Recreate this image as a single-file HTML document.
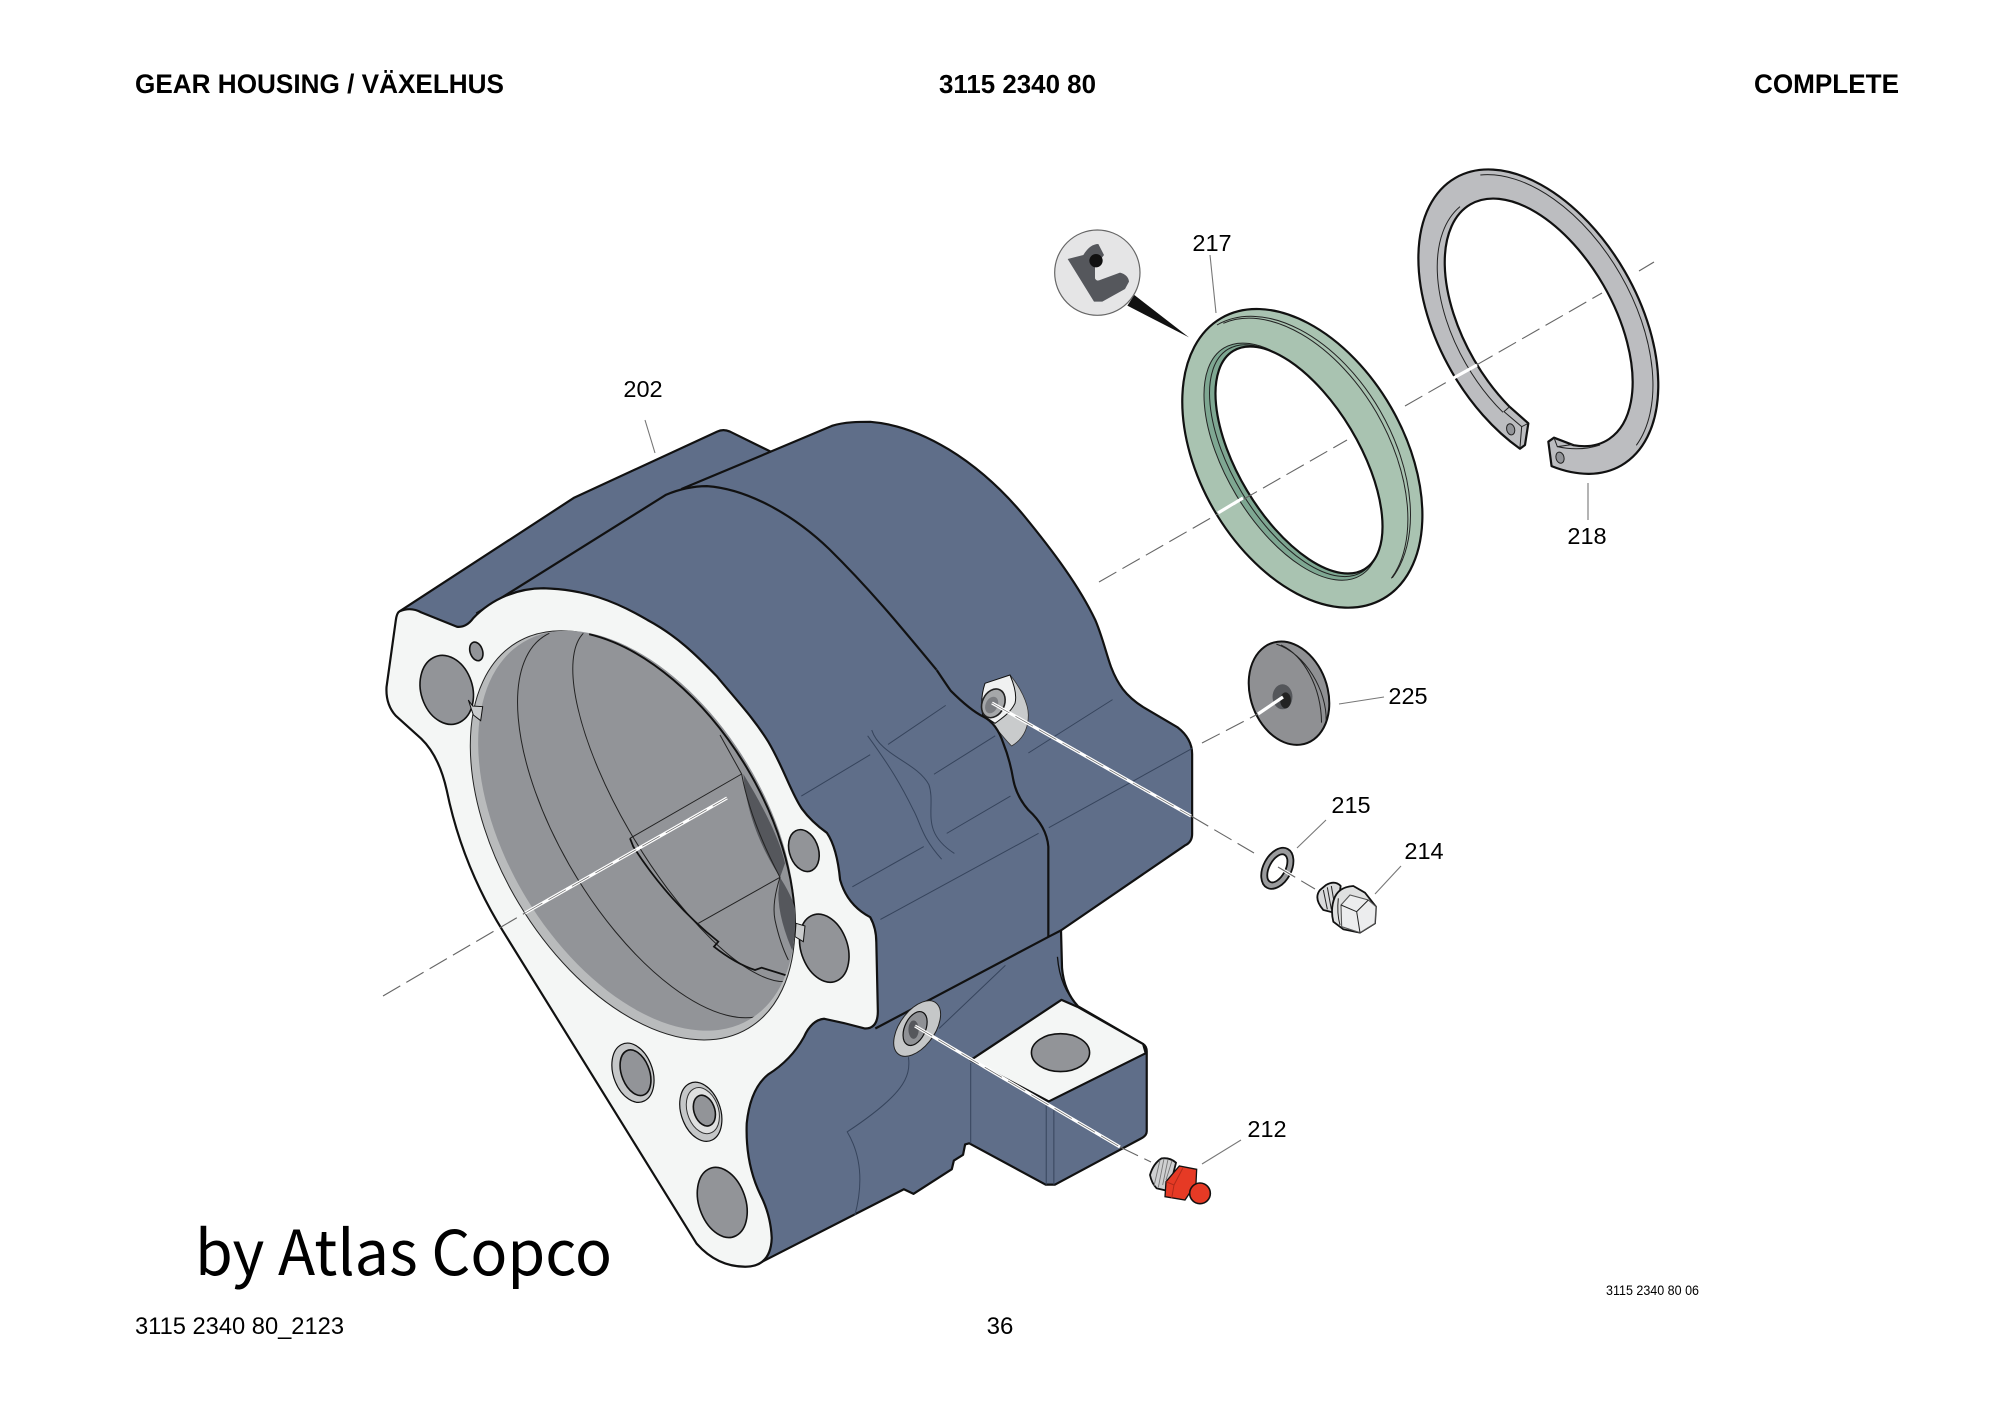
<!DOCTYPE html>
<html><head><meta charset="utf-8"><style>
html,body{margin:0;padding:0;background:#fff}
svg{display:block}
svg *{vector-effect:non-scaling-stroke}
.b{stroke:#111;stroke-width:2.2;stroke-linejoin:round}
.t{fill:none;stroke:#36445c;stroke-width:1}
.k{fill:none;stroke:#222;stroke-width:1}
.h{fill:#929498;stroke:#111;stroke-width:1.6}
.l{stroke:#777;stroke-width:1.1;fill:none}
.d{stroke:#666;stroke-width:1.1;fill:none;stroke-dasharray:20 7}
.w{stroke:#fff;stroke-width:3.2;fill:none}
text{font-family:"Liberation Sans",sans-serif;fill:#000}
.n{font-size:23.5px;text-anchor:middle}
</style></head><body>
<svg width="2000" height="1414" viewBox="0 0 2000 1414" xmlns="http://www.w3.org/2000/svg">
<defs>
<clipPath id="bc"><ellipse cx="560" cy="632" rx="388" ry="660" transform="rotate(-31 560 632)"/></clipPath>
</defs>
<rect width="2000" height="1414" fill="#fff"/>
<text x="135" y="93" font-size="27" font-weight="bold" textLength="369" lengthAdjust="spacingAndGlyphs">GEAR HOUSING / VÄXELHUS</text>
<text x="939" y="93" font-size="26" font-weight="bold" textLength="157" lengthAdjust="spacingAndGlyphs">3115 2340 80</text>
<text x="1754" y="93" font-size="27" font-weight="bold" textLength="145" lengthAdjust="spacingAndGlyphs">COMPLETE</text>

<!-- Housing -->
<g transform="translate(360,400) scale(.5102,.574)">
<path class="b" fill="#5f6e89" d="M78,368 L420,170 L700,55 Q712,50 725,55 L805,90 L925,45 C950,38 980,38 1000,38 C1100,45 1210,105 1300,200 C1360,265 1410,325 1441,383 C1455,412 1462,440 1472,465 C1485,495 1500,515 1535,535 L1602,570 Q1631,590 1631,617 L1631,756 Q1631,770 1617,776 L1374,924 L1376,990 Q1380,1030 1407,1056 L1535,1122 Q1542,1126 1542,1135 L1542,1274 Q1542,1282 1530,1287 L1362,1367 L1344,1367 L1194,1295 L1186,1297 L1182,1315 L1164,1325 L1160,1340 L1085,1383 L1066,1375 L780,1505 L600,1300 L300,850 L150,500 Z"/>
<path class="b" fill="#f4f6f5" stroke-width="1.5" d="M1197,1150 L1375,1045 L1408,1058 L1535,1122 L1540,1138 L1350,1222 Z"/>
<ellipse class="h" cx="1373" cy="1137" rx="57" ry="33"/>
<path class="b" fill="none" d="M228,372 L600,165 Q640,150 680,150 C760,155 850,200 920,260 C1000,330 1060,395 1130,470"/>
<path class="b" fill="none" d="M630,155 L805,90"/>
<path class="b" fill="none" d="M1010,1095 L1350,935 L1374,924"/>
<path class="t" d="M865,690L1000,618M1035,600L1148,532M1125,652L1245,585M965,848L1105,778M1150,755L1275,690M1020,905L1330,755M1310,615L1475,522M1350,745L1631,607"/>
<path class="t" d="M1003,575C1020,620 1090,630 1115,670C1130,710 1095,750 1165,790M995,585C1040,640 1060,670 1085,715C1100,740 1100,760 1140,800"/>
<path class="t" d="M1135,1095L1265,985M1075,1145C1080,1180 1065,1210 955,1275C985,1320 985,1370 970,1420M1197,1155L1197,1295M1345,1225L1345,1367M1360,1235L1360,1367"/>
<path fill="none" stroke="#111" stroke-width="1.3" d="M1367,970Q1372,1025 1408,1056"/>

<!-- flange -->
<path class="b" fill="#f4f6f5" d="M78,368 Q100,360 120,370 L190,395 Q208,397 222,380 C260,345 310,328 360,328 C440,330 500,350 563,383 C620,410 660,445 700,482 C740,525 772,555 800,595 C830,640 845,685 866,712 Q885,735 915,754 Q935,780 941,836 Q955,880 1000,901 Q1012,920 1012,945 L1015,1065 Q1015,1095 990,1095 Q950,1085 910,1078 Q885,1080 870,1110 Q845,1150 800,1175 Q765,1200 758,1260 Q755,1330 785,1385 Q805,1420 807,1460 Q805,1510 755,1510 Q700,1510 660,1470 L280,925 Q200,810 170,680 Q155,620 120,590 L70,550 Q50,530 52,500 L70,385 Q72,370 78,368 Z"/>
<!-- holes -->
<ellipse class="h" cx="170" cy="505" rx="50" ry="62" transform="rotate(-25 170 505)"/>
<ellipse class="h" cx="228" cy="438" rx="12" ry="17" transform="rotate(-25 228 438)"/>
<ellipse class="h" cx="870" cy="785" rx="28" ry="38" transform="rotate(-25 870 785)"/>
<ellipse class="h" cx="910" cy="955" rx="45" ry="62" transform="rotate(-25 910 955)"/>
<ellipse cx="535" cy="1172" rx="38" ry="54" transform="rotate(-25 535 1172)" fill="#c5c7c8" stroke="#111" stroke-width="1.2"/>
<ellipse class="h" cx="540" cy="1172" rx="27" ry="42" transform="rotate(-25 540 1172)"/>
<ellipse cx="668" cy="1240" rx="38" ry="54" transform="rotate(-25 668 1240)" fill="#c5c7c8" stroke="#111" stroke-width="1.2"/>
<ellipse cx="672" cy="1238" rx="30" ry="42" transform="rotate(-25 672 1238)" fill="#dfe0e0" stroke="#333" stroke-width="1"/>
<ellipse class="h" cx="675" cy="1238" rx="20" ry="28" transform="rotate(-25 675 1238)"/>
<ellipse class="h" cx="710" cy="1398" rx="45" ry="64" transform="rotate(-25 710 1398)"/>
<!-- lower boss -->
<ellipse cx="1092" cy="1095" rx="33" ry="58" transform="rotate(42 1092 1095)" fill="#c5c7c8" stroke="#222" stroke-width="1"/>
<ellipse cx="1088" cy="1095" rx="20" ry="32" transform="rotate(30 1088 1095)" fill="#8f9195" stroke="#111" stroke-width="1.2"/>
<ellipse cx="1085" cy="1097" rx="10" ry="16" fill="#55575c"/>
</g>

<!-- bore -->
<g transform="translate(450,620) scale(.33333)">
<ellipse cx="548" cy="646" rx="398" ry="675" transform="rotate(-31 548 646)" fill="#b9bbbc" stroke="#222" stroke-width="1"/>
<ellipse cx="560" cy="632" rx="388" ry="660" transform="rotate(-31 560 632)" fill="#929498"/>
<path d="M417.5,42.5 A398 675 -31 0 1 889,441 A398 675 -31 0 1 1035,910" fill="none" stroke="#111" stroke-width="2"/>
<g clip-path="url(#bc)">
<path fill="#55575c" d="M880,462 C940,560 990,660 1005,730 L990,772 C950,710 890,600 880,462 Z"/>
<path fill="#55575c" d="M990,772 Q1040,850 1040,900 L1035,1010 Q985,900 985,820 Z"/>
<path class="k" d="M298,40 A 285 640 -31 0 0 950,1180"/>
<path class="k" d="M400,40 A 205 610 -31 0 0 1005,1085"/>
<path class="k" d="M540,655 L875,462 M745,910 L990,772 M810,345 L875,462 M875,462 Q900,600 990,772 Q965,850 975,900 Q990,970 1015,1020"/>
<path fill="none" stroke="#111" stroke-width="1.8" d="M540,655 L550,680 C620,790 710,890 805,965 L792,980 C830,1010 870,1035 915,1050 L935,1043 L1015,1068"/>
</g>
<path d="M55,240L68,258L98,260L92,302L70,285Z" fill="#c9cbcc" stroke="#111" stroke-width="1"/>
<path d="M1038,910L1065,918L1060,965L1035,950Z" fill="#c9cbcc" stroke="#111" stroke-width="1"/>
</g>

<!-- top boss -->
<g transform="translate(960,660) scale(.33333)">
<path fill="#c9cbcc" stroke="#333" stroke-width=".8" d="M75,70L150,45C180,80 205,130 205,165C205,210 185,240 155,258C130,235 110,200 68,165Z"/>
<path fill="#f0f1f1" stroke="#111" stroke-width="1" d="M75,70L150,45C165,80 170,110 165,130C150,160 125,175 105,190L68,165C62,130 65,100 75,70Z"/>
<ellipse cx="100" cy="130" rx="33" ry="45" transform="rotate(25 100 130)" fill="#a5a7a9" stroke="#222" stroke-width="1.6"/>
<ellipse cx="95" cy="135" rx="18" ry="26" transform="rotate(25 95 135)" fill="#7b7d81"/>
<path fill="none" stroke="#111" stroke-width="2.2" d="M-70,30 Q-40,75 -28,92 Q30,150 70,170 Q110,190 130,250 Q150,300 160,360 Q170,410 205,450 Q260,500 265,560 L265,831"/>
</g>

<!-- seal 217 -->
<g transform="translate(1160,290) scale(.33333)">
<ellipse class="b" cx="427" cy="505" rx="307" ry="486" transform="rotate(-30 427 505)" fill="#a9c3b1"/>
<ellipse cx="397" cy="515" rx="196" ry="398" transform="rotate(-31 397 515)" fill="#7ea792" stroke="#222" stroke-width="1"/>
<ellipse cx="405" cy="512" rx="186" ry="390" transform="rotate(-31 405 512)" fill="none" stroke="#222" stroke-width="1"/>
<ellipse class="b" cx="417" cy="510" rx="181" ry="382" transform="rotate(-31 417 510)" fill="#fff"/>
<path class="k" d="M171,105 A295 468 -30 0 1 660.5,362.5 A295 468 -30 0 1 697,863.5"/>
<path class="k" d="M190,100 A283 468 -30 0 1 650,368.5 A283 468 -30 0 1 694,865"/>
</g>

<!-- retaining ring 218 -->
<g transform="translate(1400,160) scale(.33333)">
<path class="b" fill="#bcbdc0" d="M359.9,866.2 A300 498 -30 0 1 155.2,635 A300 498 -30 0 1 166,53.7 A300 498 -30 0 1 674.8,335 A300 498 -30 0 1 664,916.3 A300 498 -30 0 1 454.7,918.5 L445,845 L462,833 L520.7,855.6 A224 409 -30 0 0 610,375 A224 409 -30 0 0 211.5,133 A224 409 -30 0 0 222,599 A224 409 -30 0 0 328.6,740.2 L385,790 L375,855 Z"/>
<path class="k" d="M241,45 A290 485 -30 0 1 661,343 A290 485 -30 0 1 709,856"/>
<path class="k" d="M180,140 A245 420 -30 0 0 198,612 A245 420 -30 0 0 309,757"/>
<path class="k" d="M328.6,740.2 L312,755 L365,800 L385,790 M365,800 L360,862 M462,833 L472,860 L520,853 M472,860 Q540,875 600,855"/>
<ellipse cx="332" cy="808" rx="12" ry="17" transform="rotate(-15 332 808)" fill="#929498" stroke="#222" stroke-width="1"/>
<ellipse cx="480" cy="893" rx="12" ry="17" transform="rotate(-15 480 893)" fill="#929498" stroke="#222" stroke-width="1"/>
</g>

<!-- detail -->
<g transform="translate(1040,220) scale(.33333)">
<circle cx="172" cy="158" r="128" fill="#e5e5e6" stroke="#666" stroke-width="1.2"/>
<path d="M83,117 L130,105 Q150,72 175,72 L192,105 L165,140 L165,175 Q170,185 180,180 L240,158 Q265,165 267,185 L255,207 L187,245 L162,245 Z" fill="#55575c"/>
<circle cx="168" cy="122" r="20" fill="#111"/>
<path d="M283,225L262,257L447,352Z" fill="#111"/>
</g>

<!-- 225 -->
<g transform="translate(860,620) scale(.3827,.4464)">
<ellipse cx="1121" cy="164" rx="98" ry="122" transform="rotate(-32 1121 164)" fill="#8f9093" stroke="#111" stroke-width="2"/>
<path class="k" d="M1100,56C1160,80 1205,150 1206,230M1088,54C1165,75 1220,160 1218,225"/>
<ellipse cx="1104" cy="172" rx="26" ry="28" fill="#54565a"/>
<ellipse cx="1112" cy="180" rx="14" ry="18" fill="#222"/>
</g>

<!-- 215 / 214 -->
<g transform="translate(1240,830) scale(.33333)">
<ellipse cx="112" cy="115" rx="42" ry="66" transform="rotate(28 112 115)" fill="#9a9b9d" stroke="#111" stroke-width="1.8"/>
<ellipse cx="112" cy="115" rx="24" ry="46" transform="rotate(28 112 115)" fill="#fff" stroke="#111" stroke-width="1.8"/>
<path fill="#d9dadb" stroke="#111" stroke-width="1.8" d="M258,165 Q285,150 302,168 L290,250 L250,240 Q220,205 240,180 Z"/>
<path class="k" d="M250,180L262,238M262,172L274,238M274,168L285,232"/>
<path fill="#dfe0e0" stroke="#111" stroke-width="1.8" d="M285,200 Q300,170 340,168 L375,188 L408,230 L405,280 L360,308 L310,298 L280,275 Q270,235 285,200 Z"/>
<path fill="#ecedee" stroke="#555" stroke-width="1.1" d="M303,225 L330,195 L385,210 L408,230 L405,280 L360,308 L305,290 Z"/>
<path class="k" d="M303,225 L350,245 L360,308 M350,245 L385,210"/>
<path class="k" d="M295,205 Q290,250 300,285"/>
</g>

<!-- 212 -->
<g transform="translate(1140,1140) scale(.33333)">
<path fill="#cfd0d1" stroke="#111" stroke-width="1.8" d="M65,55 Q40,70 30,105 Q35,130 50,145 L80,152 L100,100 L108,68 Q90,52 65,55 Z"/>
<path fill="none" stroke="#777" stroke-width=".9" d="M60,60L42,138M72,56L55,142M84,58L68,135M96,62L78,120"/>
<path fill="#e63a25" stroke="#111" stroke-width="1.3" d="M78,125 L118,78 L170,88 L168,130 L135,180 L75,170 Z"/>
<path fill="none" stroke="#b02a1a" stroke-width="1" d="M78,125L102,135L128,85M102,135L95,175"/>
<circle cx="180" cy="160" r="31" fill="#e63a25" stroke="#111" stroke-width="1.6"/>
</g>

<!-- axes -->
<line class="d" x1="383" y1="996" x2="525" y2="913"/>
<line class="w" x1="525" y1="913" x2="727" y2="798"/>
<line class="d" style="stroke-width:.7" x1="525" y1="913" x2="727" y2="798"/>
<line class="d" x1="1099" y1="582" x2="1347" y2="440"/>
<line class="w" x1="1218" y1="513" x2="1243" y2="498"/>
<line class="d" x1="1405" y1="406" x2="1602" y2="293"/>
<line class="d" x1="1639" y1="271" x2="1654" y2="262"/>
<line class="w" x1="1450" y1="380" x2="1477" y2="365"/>
<line class="d" x1="1202" y1="743" x2="1258" y2="714"/>
<line class="w" x1="1258" y1="714" x2="1283" y2="697"/>
<line class="w" x1="992" y1="703" x2="1191" y2="816"/>
<line class="d" style="stroke-width:.7" x1="992" y1="703" x2="1191" y2="816"/>
<line class="d" x1="1191" y1="816" x2="1254" y2="853"/>
<line class="w" x1="1278" y1="867" x2="1293" y2="876"/>
<line class="d" x1="1278" y1="867" x2="1315" y2="889"/>
<line class="w" x1="915" y1="1026" x2="1120" y2="1147"/>
<line class="d" style="stroke-width:.7" x1="915" y1="1026" x2="1120" y2="1147"/>
<line class="d" x1="1120" y1="1147" x2="1151" y2="1162"/>

<!-- leaders -->
<g class="l">
<line x1="1210" y1="255" x2="1216" y2="313"/>
<line x1="1588" y1="483" x2="1588" y2="520"/>
<line x1="645" y1="420" x2="655" y2="453"/>
<line x1="1339" y1="704" x2="1384" y2="697"/>
<line x1="1297" y1="848" x2="1326" y2="820"/>
<line x1="1375" y1="894" x2="1401" y2="866"/>
<line x1="1202" y1="1164" x2="1241" y2="1140"/>
</g>

<text class="n" x="643" y="397">202</text>
<text class="n" x="1212" y="251">217</text>
<text class="n" x="1587" y="544">218</text>
<text class="n" x="1408" y="704">225</text>
<text class="n" x="1351" y="813">215</text>
<text class="n" x="1424" y="859">214</text>
<text class="n" x="1267" y="1137">212</text>

<text x="195" y="1275" font-size="62" textLength="417" lengthAdjust="spacingAndGlyphs" style='font-family:"Noto Sans CJK JP",sans-serif'>by Atlas Copco</text>
<text x="135" y="1334" font-size="24" textLength="209" lengthAdjust="spacingAndGlyphs">3115 2340 80_2123</text>
<text x="1000" y="1334" font-size="24" text-anchor="middle">36</text>
<text x="1606" y="1295" font-size="13.5" textLength="93" lengthAdjust="spacingAndGlyphs">3115 2340 80 06</text>
</svg>
</body></html>
